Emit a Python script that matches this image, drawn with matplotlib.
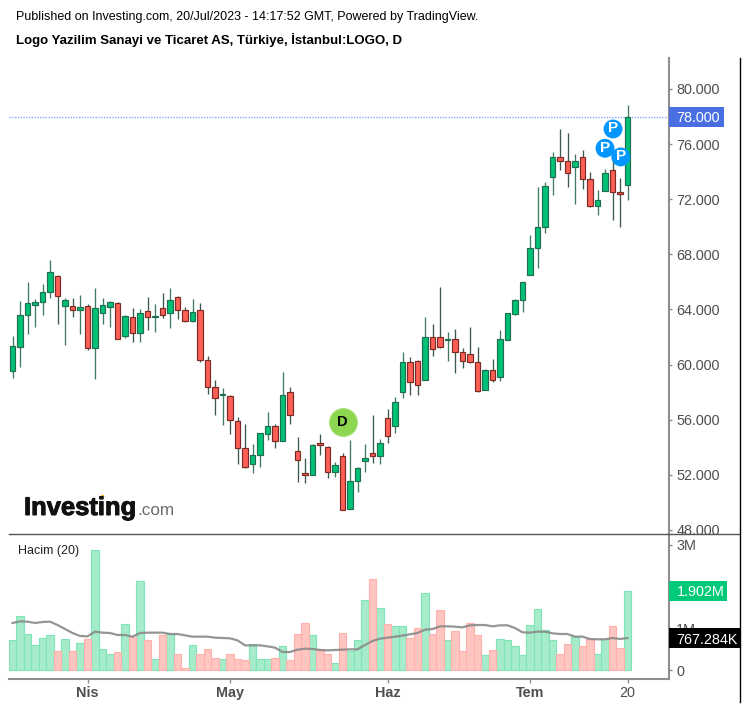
import matplotlib
matplotlib.use("Agg")
import matplotlib.pyplot as plt
import matplotlib.patheffects as pe
import numpy as np
from matplotlib.lines import Line2D
from matplotlib.patches import Rectangle
from matplotlib.transforms import Bbox

plt.rcParams['font.family'] = ['Liberation Sans', 'DejaVu Sans']

# candles
opens = [59.53, 61.25, 63.60, 64.35, 64.52, 65.24, 66.43, 64.25, 64.25, 63.98, 64.25, 61.18, 63.72, 64.15,
         64.44, 62.07, 63.43, 62.27, 63.89, 63.43, 64.08, 63.72, 64.88, 63.98, 63.16, 63.98, 60.36, 58.35,
         57.82, 57.72, 55.93, 53.92, 52.81, 53.46, 54.99, 55.55, 54.46, 57.99, 53.73, 52.11, 52.01, 54.29,
         54.00, 52.18, 53.37, 49.55, 51.55, 52.98, 53.56, 53.37, 56.10, 55.55, 57.99, 60.17, 60.26, 58.90,
         61.98, 61.98, 61.76, 61.83, 60.89, 60.79, 60.16, 58.18, 59.63, 59.07, 61.81, 63.69, 64.69, 66.50,
         68.48, 69.96, 73.59, 75.04, 74.77, 74.31, 75.04, 73.49, 71.51, 72.60, 74.14, 72.52, 73.06]
highs = [62.10, 64.64, 66.02, 64.73, 65.82, 67.56, 66.50, 64.81, 64.83, 65.02, 64.37, 65.56, 64.83, 64.64,
         64.54, 63.57, 64.08, 64.01, 64.93, 64.37, 65.19, 65.56, 64.98, 64.20, 64.73, 64.47, 60.65, 58.86,
         58.30, 57.79, 56.22, 55.69, 54.24, 55.01, 56.59, 55.67, 59.49, 58.39, 54.77, 53.22, 54.24, 54.96,
         54.12, 52.93, 53.59, 54.50, 52.59, 54.24, 56.32, 54.58, 56.75, 57.67, 60.94, 60.58, 60.33, 63.48,
         62.94, 65.65, 62.39, 62.58, 61.20, 62.75, 61.30, 59.65, 60.38, 62.51, 63.72, 64.74, 66.02, 69.38,
         72.91, 73.25, 75.45, 77.10, 76.81, 75.26, 75.55, 73.97, 72.64, 74.17, 75.09, 73.54, 78.81]
lows = [59.05, 59.85, 62.22, 62.75, 63.57, 64.86, 62.94, 61.40, 63.48, 62.22, 61.03, 58.98, 62.94, 62.75,
        61.83, 61.95, 61.66, 61.66, 62.48, 62.39, 63.40, 62.65, 63.28, 63.11, 63.07, 60.21, 57.86, 56.32,
        55.59, 54.96, 52.79, 52.52, 52.16, 52.59, 54.50, 53.97, 54.43, 55.69, 51.51, 51.43, 51.96, 53.42,
        51.80, 51.87, 49.42, 49.50, 50.78, 52.23, 52.88, 52.79, 54.33, 55.04, 57.60, 57.77, 57.77, 58.88,
        60.65, 61.23, 60.28, 59.41, 59.75, 60.14, 58.03, 58.15, 58.76, 58.83, 61.78, 63.57, 63.84, 66.48,
        67.03, 69.57, 72.28, 74.10, 72.91, 71.65, 72.74, 71.46, 70.83, 72.57, 70.47, 70.01, 71.92]
closes = [61.35, 63.62, 64.44, 64.52, 65.24, 66.69, 64.98, 64.71, 63.96, 64.15, 61.18, 64.08, 64.35, 64.52,
          61.88, 63.52, 62.27, 63.72, 63.43, 63.52, 63.62, 64.71, 63.98, 63.16, 63.79, 60.36, 58.35, 57.55,
          57.89, 56.00, 53.92, 52.55, 53.46, 55.01, 55.55, 54.43, 57.82, 56.37, 53.08, 52.01, 54.19, 54.17,
          52.18, 52.74, 49.45, 51.55, 52.47, 53.20, 53.37, 54.29, 54.82, 57.26, 60.17, 58.71, 58.54, 61.98,
          61.15, 61.25, 61.83, 60.89, 60.24, 60.16, 58.06, 59.63, 58.90, 61.83, 63.72, 64.71, 65.99, 68.44,
          69.98, 72.96, 75.04, 74.75, 73.88, 74.77, 73.49, 71.48, 71.97, 73.88, 72.50, 72.40, 78.00]

# volume in millions
volumes = [0.712, 1.288, 0.856, 0.592, 0.776, 0.832, 0.448, 0.736, 0.448, 0.656, 0.736, 2.872, 0.496, 0.376,
           0.424, 1.096, 0.800, 2.128, 0.712, 0.256, 0.840, 0.856, 0.376, 0.056, 0.592, 0.376, 0.496, 0.296,
           0.256, 0.376, 0.256, 0.232, 0.624, 0.256, 0.256, 0.296, 0.568, 0.232, 0.856, 1.136, 0.832, 0.496,
           0.376, 0.168, 0.896, 0.448, 0.712, 1.672, 2.184, 1.496, 1.104, 1.048, 1.048, 0.776, 1.016, 1.856,
           0.856, 1.432, 0.712, 0.928, 0.448, 1.136, 0.840, 0.352, 0.472, 0.736, 0.712, 0.568, 0.352, 1.072,
           1.464, 0.952, 0.712, 0.376, 0.624, 0.808, 0.568, 0.744, 0.376, 0.744, 1.048, 0.536, 1.902]
volume_ma = [1.128, 1.168, 1.160, 1.128, 1.152, 1.160, 1.080, 0.984, 0.888, 0.816, 0.808, 0.920, 0.896, 0.888,
             0.840, 0.840, 0.800, 0.888, 0.896, 0.896, 0.896, 0.864, 0.864, 0.832, 0.800, 0.800, 0.800, 0.776,
             0.768, 0.760, 0.712, 0.592, 0.592, 0.592, 0.568, 0.536, 0.432, 0.432, 0.488, 0.512, 0.504, 0.480,
             0.472, 0.480, 0.488, 0.496, 0.496, 0.600, 0.696, 0.752, 0.776, 0.800, 0.824, 0.856, 0.888, 0.968,
             0.984, 1.048, 1.048, 1.040, 1.024, 1.072, 1.080, 1.080, 1.048, 1.072, 1.072, 1.008, 0.904, 0.896,
             0.920, 0.920, 0.880, 0.864, 0.864, 0.800, 0.800, 0.744, 0.736, 0.736, 0.768, 0.744, 0.767]

date_ticks = [10, 29, 50, 69, 82]
date_labels = ['Nis', 'May', 'Haz', 'Tem', '20']
price_ticks = [48, 52, 56, 60, 64, 68, 72, 76, 80]
volume_ticks = [0, 1, 2, 3]
volume_tick_labels = ['0', '1M', '2M', '3M']

# marks on the chart: bar index, price, letter
dividend_mark = (44, 55.83, 'D')
p_marks = [(79, 75.7, 'P'), (81.1, 75.07, 'P'), (80.07, 77.1, 'P')]

W, H = 747, 707
GREEN = '#00c176'
RED = '#ff5f54'
GRAY = '#8f8f8f'
TEXT = '#4f4f4f'


def px_axes(left, top, right, bottom):
    return fig.add_axes([left / W, 1 - bottom / H, (right - left) / W, (bottom - top) / H])


def value_box(ax, value, label, color, width, height):
    # coloured box on the right axis, width in px, height in data units
    tr = ax.get_yaxis_transform()
    ax_w = ax.get_position().width * W
    ax.add_patch(Rectangle((1, value - height / 2), width / ax_w, height, transform=tr,
                           facecolor=color, edgecolor='none', clip_on=False, zorder=6))
    ax.annotate(label, (1, value), xycoords=tr, xytext=(8, 0), textcoords='offset pixels',
                color='white', fontsize=10.4, va='center_baseline', ha='left', zorder=7)


fig = plt.figure(figsize=(W / 100, H / 100), dpi=100, facecolor='white')

x = np.arange(len(closes))
opens = np.array(opens)
closes = np.array(closes)
up = closes >= opens
xlim = ((9 - 12.5) / 7.5, (668.5 - 12.5) / 7.5)

# price pane
ax = px_axes(9, 58, 668.5, 534)
ax.set_xlim(xlim)
ax.set_ylim(80 - (534 - 89) / 13.78, 80 + (89 - 58) / 13.78)
ax.axhline(78, color='#8aa6f5', lw=1, ls=(0, (1, 1)), zorder=1)
ax.vlines(x[up], np.array(lows)[up], np.array(highs)[up], color='#3f7a63', lw=0.95, zorder=2)
ax.vlines(x[~up], np.array(lows)[~up], np.array(highs)[~up], color='#3a5a4d', lw=0.95, zorder=2)
ax.bar(x[up], (closes - opens)[up], bottom=opens[up], width=0.72, color=GREEN,
       edgecolor='#1f6e50', linewidth=0.85, zorder=3)
ax.bar(x[~up], (closes - opens)[~up], bottom=opens[~up], width=0.72, color=RED,
       edgecolor='#7a2a24', linewidth=0.85, zorder=3)

ax.scatter(dividend_mark[0], dividend_mark[1], s=400, color='#8cd650', edgecolor='#a6e070', lw=0.8, zorder=4)
ax.text(dividend_mark[0], dividend_mark[1], dividend_mark[2], color='black', fontsize=10.5, fontweight='bold',
        ha='center', va='center', zorder=5)
for mx, my, letter in p_marks:
    ax.scatter(mx, my, s=185, color='#0496ff', edgecolor='none', zorder=4)
    ax.text(mx, my + 0.05, letter, color='white', fontsize=11, fontweight='bold', ha='center', va='center', zorder=5)

ax.yaxis.tick_right()
ax.set_yticks(price_ticks)
ax.set_yticklabels([f'{p}.000' for p in price_ticks])
ax.set_xticks([])
ax.tick_params(axis='y', length=2.5, width=1, color=GRAY, labelcolor=TEXT, labelsize=10.4, pad=3)
for lab in ax.get_yticklabels():
    # the lowest label gets cut by the volume pane
    lab.set_clip_on(True)
    lab.set_clip_box(Bbox([[0, H - 534], [W, H]]))
for side in ['top', 'left', 'bottom']:
    ax.spines[side].set_visible(False)
ax.spines['right'].set_color(GRAY)
ax.spines['right'].set_linewidth(1.5)
value_box(ax, closes[-1], '78.000', '#4a6fe3', 55, 20 / 13.78)

# volume pane
ax2 = px_axes(9, 534, 668.5, 678.5)
ax2.set_xlim(xlim)
ax2.set_ylim((670 - 678.5) / 41.67, (670 - 534) / 41.67)
vols = np.array(volumes)
ax2.bar(x[up], vols[up], width=0.94, color='#a6ecca', edgecolor='#7fe4b6', linewidth=0.8, zorder=2)
ax2.bar(x[~up], vols[~up], width=0.94, color='#ffc5c1', edgecolor='#ffb1ab', linewidth=0.8, zorder=2)
ax2.plot(x, volume_ma, color='#8a8a8a', lw=1.6, alpha=0.9, zorder=3)

ax2.yaxis.tick_right()
ax2.set_yticks(volume_ticks)
ax2.set_yticklabels(volume_tick_labels)
ax2.set_xticks(date_ticks)
ax2.set_xticklabels(date_labels)
ax2.tick_params(axis='y', length=2.5, width=1, color=GRAY, labelcolor=TEXT, labelsize=10.4, pad=3)
ax2.tick_params(axis='x', length=3, width=1, color=GRAY, labelcolor=TEXT, labelsize=10.4, pad=2.5)
for lab in ax2.get_xticklabels()[:-1]:
    lab.set_fontweight('bold')
for side in ['top', 'left']:
    ax2.spines[side].set_visible(False)
for side in ['right', 'bottom']:
    ax2.spines[side].set_color(GRAY)
    ax2.spines[side].set_linewidth(1.5)
value_box(ax2, volumes[-1], '1.902M', '#00c978', 58, 20 / 41.67)
value_box(ax2, volume_ma[-1], '767.284K', 'black', 71, 20 / 41.67)

# frame lines
fig.add_artist(Line2D([9 / W, 739 / W], [1 - 534 / H, 1 - 534 / H], color='#555555', lw=1))
fig.add_artist(Line2D([739.5 / W, 739.5 / W], [1 - 58 / H, 1 - 702 / H], color='black', lw=1))

# header
fig.text(16 / W, 1 - 17 / H, 'Published on Investing.com, 20/Jul/2023 - 14:17:52 GMT, Powered by TradingView.',
         fontsize=9.0, color='black', va='center')
fig.text(16 / W, 1 - 40 / H, 'Logo Yazilim Sanayi ve Ticaret AS, Türkiye, İstanbul:LOGO, D',
         fontsize=9.5, fontweight='bold', color='black', va='center')
fig.text(18 / W, 1 - 551 / H, 'Hacim (20)', fontsize=9, color='#222222', va='center')

# watermark
fig.text(24 / W, 1 - 515 / H, 'Investing', fontsize=18.4, fontweight='bold', color='#111111', va='baseline',
         path_effects=[pe.withStroke(linewidth=0.7, foreground='#111111')])
fig.text(137 / W, 1 - 515 / H, '.com', fontsize=12.3, color='#6a6a6a', va='baseline')
fig.add_artist(Line2D([102 / W], [1 - 495.5 / H], marker='o', ms=2.6, color='#f5a623', mew=0))

fig.savefig('out.png', dpi=100)
